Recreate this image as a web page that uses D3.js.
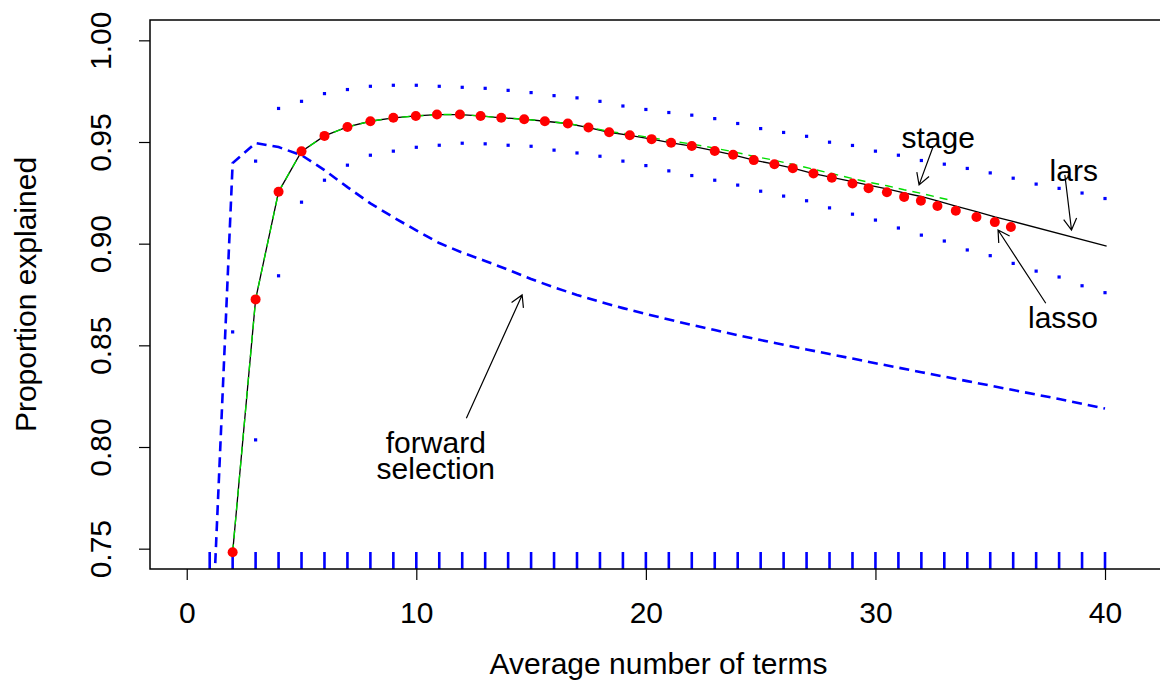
<!DOCTYPE html>
<html>
<head>
<meta charset="utf-8">
<script src="https://cdn.jsdelivr.net/npm/d3@7"></script>
<style>
  body { margin: 0; background: #fff; }
  text { font-family: "Liberation Sans", Arial, Helvetica, sans-serif; fill: #000; }
</style>
</head>
<body>
<svg id="chart" width="1160" height="683"></svg>
<script>
var width = 1160,
    height = 683;
var plotLeft = 150, plotRight = 1167, plotTop = 20, plotBottom = 569;

// lasso (red points)
var lassoX = [2, 3, 4, 5, 6, 7, 8, 9, 9.98, 10.9, 11.9, 12.8, 13.7, 14.7, 15.6, 16.6, 17.5, 18.4, 19.3,
  20.25, 21.1, 22.0, 23.0, 23.8, 24.7, 25.6, 26.4, 27.3, 28.1, 29.0, 29.7, 30.5, 31.25, 31.98,
  32.7, 33.5, 34.4, 35.2, 35.9];
var lassoY = [0.7482, 0.8726, 0.9255, 0.9454, 0.9530, 0.9574, 0.9602, 0.9619, 0.9628, 0.9635, 0.9635,
  0.9628, 0.9619, 0.9612, 0.9602, 0.9591, 0.9571, 0.9548, 0.9533, 0.9514, 0.9496, 0.9480, 0.9456,
  0.9437, 0.9411, 0.9391, 0.9371, 0.9345, 0.9324, 0.9296, 0.9273, 0.9253, 0.9230, 0.9211, 0.9185,
  0.9162, 0.9131, 0.9106, 0.9082];

// lars (black line)
var larsX = [2, 3, 4, 5, 6, 7, 8, 9, 9.98, 10.9, 11.9, 12.8, 13.7, 14.7, 15.6, 16.6, 17.5, 18.4, 19.3,
  20.25, 21.1, 22.0, 23.0, 23.8, 24.7, 25.6, 26.4, 27.3, 28.1, 29.0, 29.7, 30.5, 31.25, 31.98,
  32.7, 33.5, 34.4, 35.2, 35.9, 40.07];
var larsY = [0.7482, 0.8726, 0.9255, 0.9454, 0.9530, 0.9574, 0.9602, 0.9619, 0.9628, 0.9635, 0.9635,
  0.9628, 0.9619, 0.9612, 0.9602, 0.9591, 0.9571, 0.9548, 0.9533, 0.9514, 0.9496, 0.9480, 0.9456,
  0.9437, 0.9411, 0.9391, 0.9371, 0.9345, 0.9326, 0.9305, 0.9288, 0.9270, 0.9250, 0.9232, 0.9210,
  0.9185, 0.9158, 0.9132, 0.9112, 0.8988];

// stagewise (green dashed)
var stageX = [2, 3, 4, 5, 6, 7, 8, 9, 9.98, 10.9, 11.9, 12.8, 13.7, 14.7, 15.6, 16.6, 17.5, 18.4, 19.3,
  20.25, 21.1, 22.0, 23.0, 23.8, 24.7, 25.6, 26.4, 27.3, 28.1, 29.0, 29.7, 30.5, 31.25, 31.98,
  32.7, 33.24];
var stageY = [0.7482, 0.8726, 0.9255, 0.9454, 0.9530, 0.9574, 0.9602, 0.9619, 0.9628, 0.9635, 0.9635,
  0.9628, 0.9619, 0.9612, 0.9602, 0.9591, 0.9573, 0.9552, 0.9538, 0.9521, 0.9505, 0.9490, 0.9470,
  0.9452, 0.9430, 0.9410, 0.9390, 0.9366, 0.9345, 0.9320, 0.9302, 0.9285, 0.9265, 0.9248, 0.9228,
  0.9215];

// forward selection (blue dashed)
var fwdX = [1, 2, 3, 4, 5, 6, 7, 8, 9, 10, 11, 12, 13, 14, 15, 16, 17, 18, 19, 20,
  21, 22, 23, 24, 25, 26, 27, 28, 29, 30, 31, 32, 33, 34, 35, 36, 37, 38, 39, 40];
var fwdY = [0.680, 0.9396, 0.9495, 0.9475, 0.9435, 0.9362, 0.9278, 0.9198, 0.9130, 0.9065, 0.9003,
  0.8956, 0.8915, 0.8872, 0.8826, 0.8785, 0.8748, 0.8714, 0.8683, 0.8654, 0.8627, 0.8600, 0.8575,
  0.8550, 0.8526, 0.8503, 0.8480, 0.8457, 0.8435, 0.8412, 0.8390, 0.8368, 0.8346, 0.8324, 0.8302,
  0.8280, 0.8258, 0.8236, 0.8213, 0.8189];

// standard error band (blue dots)
var bandX = [2, 3, 4, 5, 6, 7, 8, 9, 10, 11, 12, 13, 14, 15, 16, 17, 18, 19, 20,
  21, 22, 23, 24, 25, 26, 27, 28, 29, 30, 31, 32, 33, 34, 35, 36, 37, 38, 39, 40];
var bandUpper = [null, 0.9406, 0.9665, 0.9700, 0.9738, 0.9758, 0.9774, 0.9779, 0.9779, 0.9774, 0.9769,
  0.9764, 0.9754, 0.9743, 0.9728, 0.9717, 0.9700, 0.9677, 0.9660, 0.9645, 0.9632, 0.9615, 0.9591,
  0.9566, 0.9547, 0.9528, 0.9499, 0.9483, 0.9455, 0.9435, 0.9409, 0.9391, 0.9370, 0.9348, 0.9322,
  0.9293, 0.9272, 0.9249, 0.9222];
var bandLower = [0.8566, 0.8035, 0.8842, 0.9204, 0.9312, 0.9386, 0.9435, 0.9455, 0.9474, 0.9484, 0.9494,
  0.9491, 0.9484, 0.9479, 0.9460, 0.9446, 0.9430, 0.9406, 0.9384, 0.9358, 0.9335, 0.9312, 0.9288,
  0.9258, 0.9234, 0.9211, 0.9176, 0.9145, 0.9116, 0.9077, 0.9042, 0.9013, 0.8969, 0.8941, 0.8903,
  0.8865, 0.8836, 0.8793, 0.8759];

// rug at the bottom
var rugX = [1, 2, 3, 4, 5, 6, 7, 8, 9, 10, 11, 12, 13, 14, 15, 16, 17, 18, 19, 20,
  21, 22, 23, 24, 25, 26, 27, 28, 29, 30, 31, 32, 33, 34, 35, 36, 37, 38, 39, 40];

var xTicks = [0, 10, 20, 30, 40];
var yTicks = [0.75, 0.80, 0.85, 0.90, 0.95, 1.00];

// annotations: text anchors and arrows (data units)
var labelText = ["stage", "lars", "lasso", "forward", "selection"];
var labelX = [32.73, 38.64, 38.17, 10.85, 10.85];
var labelY = [0.9521, 0.9360, 0.8635, 0.8024, 0.7893];
var arrowFromX = [32.51, 38.25, 37.42, 12.18];
var arrowFromY = [0.9477, 0.9338, 0.8707, 0.8141];
var arrowToX = [31.90, 38.54, 35.34, 14.61];
var arrowToY = [0.9289, 0.9067, 0.9067, 0.8748];

var x = d3.scaleLinear().domain([-1.6, 42.7]).range([plotLeft, plotRight]);
var y = d3.scaleLinear().domain([0.74, 1.01]).range([plotBottom, plotTop]);

var svg = d3.select("#chart");

svg.append("clipPath").attr("id", "clip")
  .append("rect")
    .attr("x", plotLeft).attr("y", plotTop)
    .attr("width", plotRight - plotLeft).attr("height", plotBottom - plotTop);

var plot = svg.append("g").attr("clip-path", "url(#clip)");

function zip(xs, ys) {
  return xs.map(function(d, i) { return [d, ys[i]]; });
}

var line = d3.line()
    .defined(function(d) { return d[1] != null; })
    .x(function(d) { return x(d[0]); })
    .y(function(d) { return y(d[1]); });

// forward selection
plot.append("path")
    .datum(zip(fwdX, fwdY))
    .attr("d", line)
    .attr("fill", "none")
    .attr("stroke", "#0000ff")
    .attr("stroke-width", 2.6)
    .attr("stroke-dasharray", "10,6");

// band dots
plot.selectAll(".band")
    .data(zip(bandX, bandUpper).concat(zip(bandX, bandLower)).filter(function(d) { return d[1] != null; }))
    .enter().append("rect")
    .attr("class", "band")
    .attr("x", function(d) { return x(d[0]) - 1.6; })
    .attr("y", function(d) { return y(d[1]) - 1.6; })
    .attr("width", 3.2)
    .attr("height", 3.2)
    .attr("fill", "#0000ff");

// rug
plot.selectAll(".rug")
    .data(rugX)
    .enter().append("line")
    .attr("class", "rug")
    .attr("x1", function(d) { return x(d); })
    .attr("x2", function(d) { return x(d); })
    .attr("y1", plotBottom)
    .attr("y2", plotBottom - 17)
    .attr("stroke", "#0000ff")
    .attr("stroke-width", 2.6);

// lars
plot.append("path")
    .datum(zip(larsX, larsY))
    .attr("d", line)
    .attr("fill", "none")
    .attr("stroke", "#000")
    .attr("stroke-width", 1.3);

// stagewise
plot.append("path")
    .datum(zip(stageX, stageY))
    .attr("d", line)
    .attr("fill", "none")
    .attr("stroke", "#00dd00")
    .attr("stroke-width", 1.4)
    .attr("stroke-dasharray", "8,6");

// lasso points
plot.selectAll(".lasso")
    .data(zip(lassoX, lassoY))
    .enter().append("circle")
    .attr("class", "lasso")
    .attr("cx", function(d) { return x(d[0]); })
    .attr("cy", function(d) { return y(d[1]); })
    .attr("r", 5)
    .attr("fill", "#ff0000");

// frame
svg.append("rect")
    .attr("x", plotLeft).attr("y", plotTop)
    .attr("width", plotRight - plotLeft).attr("height", plotBottom - plotTop)
    .attr("fill", "none")
    .attr("stroke", "#000")
    .attr("stroke-width", 1.5);

// axes
var xAxis = svg.append("g")
    .attr("transform", "translate(0," + plotBottom + ")")
    .call(d3.axisBottom(x).tickValues(xTicks).tickSize(11).tickPadding(22).tickFormat(d3.format("d")));
var yAxis = svg.append("g")
    .attr("transform", "translate(" + plotLeft + ",0)")
    .call(d3.axisLeft(y).tickValues(yTicks).tickSize(11).tickFormat(d3.format(".2f")));

[xAxis, yAxis].forEach(function(a) {
  a.select(".domain").remove();
  a.selectAll(".tick line").attr("stroke", "#000").attr("stroke-width", 1.2);
  a.selectAll("text").attr("font-size", 30).attr("font-family", null).attr("fill", "#000");
});

yAxis.selectAll(".tick text")
    .attr("transform", "rotate(-90)")
    .attr("text-anchor", "middle")
    .attr("x", 0)
    .attr("y", -39)
    .attr("dy", null);

// axis titles
svg.append("text")
    .attr("x", (plotLeft + plotRight) / 2)
    .attr("y", 674)
    .attr("text-anchor", "middle")
    .attr("font-size", 30)
    .text("Average number of terms");

svg.append("text")
    .attr("transform", "translate(36," + (plotTop + plotBottom) / 2 + ") rotate(-90)")
    .attr("text-anchor", "middle")
    .attr("font-size", 30)
    .text("Proportion explained");

// annotation labels
svg.selectAll(".label")
    .data(labelText)
    .enter().append("text")
    .attr("class", "label")
    .attr("x", function(d, i) { return x(labelX[i]); })
    .attr("y", function(d, i) { return y(labelY[i]); })
    .attr("dy", "0.35em")
    .attr("text-anchor", "middle")
    .attr("font-size", 30)
    .text(function(d) { return d; });

// arrows with open heads
var headLen = 13, headAngle = Math.PI / 6;
arrowFromX.forEach(function(d, i) {
  var x0 = x(arrowFromX[i]), y0 = y(arrowFromY[i]),
      x1 = x(arrowToX[i]), y1 = y(arrowToY[i]);
  var a = Math.atan2(y1 - y0, x1 - x0);
  var p = "M" + x0 + "," + y0 + "L" + x1 + "," + y1 +
      "M" + (x1 - headLen * Math.cos(a - headAngle)) + "," + (y1 - headLen * Math.sin(a - headAngle)) +
      "L" + x1 + "," + y1 +
      "L" + (x1 - headLen * Math.cos(a + headAngle)) + "," + (y1 - headLen * Math.sin(a + headAngle));
  svg.append("path")
      .attr("d", p)
      .attr("fill", "none")
      .attr("stroke", "#000")
      .attr("stroke-width", 1.2);
});
</script>
</body>
</html>
